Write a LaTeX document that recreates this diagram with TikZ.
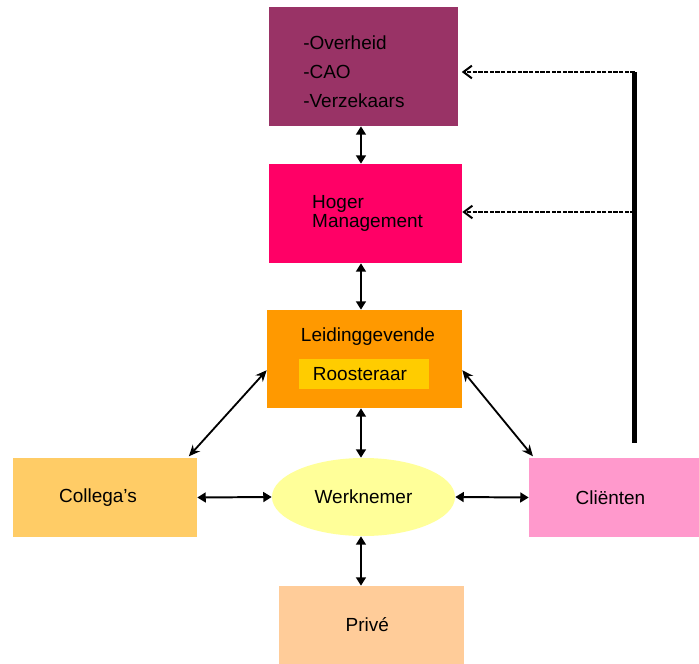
\documentclass[tikz,border=0pt]{standalone}
\usepackage{fontspec}
\setmainfont{Liberation Sans}
\usetikzlibrary{arrows.meta,shapes.geometric}

\definecolor{overheidkl}{HTML}{993366}
\definecolor{hogerkl}{HTML}{FF0066}
\definecolor{leidingkl}{HTML}{FF9900}
\definecolor{roosterkl}{HTML}{FFCC00}
\definecolor{collegakl}{HTML}{FFCC66}
\definecolor{werkkl}{HTML}{FFFF99}
\definecolor{clientkl}{HTML}{FF99CC}
\definecolor{privekl}{HTML}{FFCC99}

\tikzset{
  blok/.style={rectangle, inner sep=0pt, font=\fontsize{13.5}{13.5}\selectfont},
  tekst/.style={inner sep=0pt, font=\fontsize{13.5}{13.5}\selectfont},
  pijl/.style={{Triangle[length=6pt,width=7pt]}-{Triangle[length=6pt,width=7pt]}, line width=1.8pt},
  vlak/.style={{Triangle[length=6pt,width=7pt]}-{Triangle[length=6pt,width=7pt]}, line width=1.4pt},
  schuin/.style={{Stealth[length=8pt,width=7pt]}-{Stealth[length=8pt,width=7pt]}, line width=1.3pt},
  stippel/.style={-{Straight Barb[length=6pt,width=9pt]}, line width=1.4pt, dash pattern=on 3pt off 1pt},
  balk/.style={line width=3.5pt},
}

\begin{document}
\begin{tikzpicture}[x=0.025cm, y=-0.025cm]
\useasboundingbox (0,0) rectangle (699,664);

% bovenste rij
\node[blok, fill=overheidkl, minimum width=4.725cm, minimum height=2.975cm] (overheid) at (363.5,66.5) {};
\node[tekst, anchor=west, align=left, font=\fontsize{13.5}{20.5}\selectfont] (overheidtxt) at (303,72) {-Overheid\\-CAO\\-Verzekaars};

\node[blok, fill=hogerkl, minimum width=4.825cm, minimum height=2.475cm, align=left] (hoger) at (365.5,213.5) {\hspace*{3pt}Hoger\\\hspace*{3pt}Management};

\node[blok, fill=leidingkl, minimum width=4.875cm, minimum height=2.45cm] (leiding) at (364.5,359) {};
\node[tekst] (leidingtxt) at (368,337) {Leidinggevende};
\node[blok, fill=roosterkl, minimum height=0.75cm, inner xsep=0.35cm, text width=2.55cm, align=left] (rooster) at (364,374) {Roosteraar};

% middelste rij
\node[blok, fill=collegakl, minimum width=4.6cm, minimum height=1.975cm] (collegas) at (105,497.5) {Collega’s\hspace*{10pt}};
\node[ellipse, inner sep=0pt, fill=werkkl, minimum width=4.575cm, minimum height=1.95cm, font=\fontsize{13.5}{13.5}\selectfont] (werk) at (363.5,497) {Werknemer};
\node[blok, fill=clientkl, minimum width=4.25cm, minimum height=1.975cm] (clienten) at (614,497.5) {Cliënten\hspace*{5pt}};

% onderaan
\node[blok, fill=privekl, minimum width=4.625cm, minimum height=1.95cm] (prive) at (371.5,625) {Privé\hspace*{6pt}};

% pijlen
\draw[pijl] ([xshift=-1.8pt]overheid.south -| werk) -- ([xshift=-1.8pt]hoger.north -| werk);
\draw[pijl] ([xshift=-1.8pt]hoger.south -| werk) -- ([xshift=-1.8pt]leiding.north -| werk);
\draw[pijl] ([xshift=-1.8pt]leiding.south -| werk) -- ([xshift=-1.8pt]werk.north);
\draw[pijl] ([xshift=-1.8pt]werk.south) -- ([xshift=-1.8pt]werk.south |- prive.north);
\draw[vlak] (collegas.east) -- (werk.west);
\draw[vlak] (werk.east) -- (clienten.west);

\draw[schuin] ([yshift=-8pt]leiding.west) -- ([xshift=-6pt,yshift=1pt]collegas.north east);
\draw[schuin] ([yshift=-8pt]leiding.east) -- ([xshift=3pt,yshift=1pt]clienten.north west);

% terugkoppeling
\coordinate (balkboven) at (634.5,72);
\coordinate (balkmidden) at (634.5,212);
\coordinate (balkonder) at (634.5,443);
\draw[balk] (balkboven) -- (balkonder);
\draw[stippel, shorten >=2.5pt] (balkboven) -- (balkboven -| overheid.east);
\draw[stippel] (balkmidden) -- (balkmidden -| hoger.east);

\end{tikzpicture}
\end{document}
